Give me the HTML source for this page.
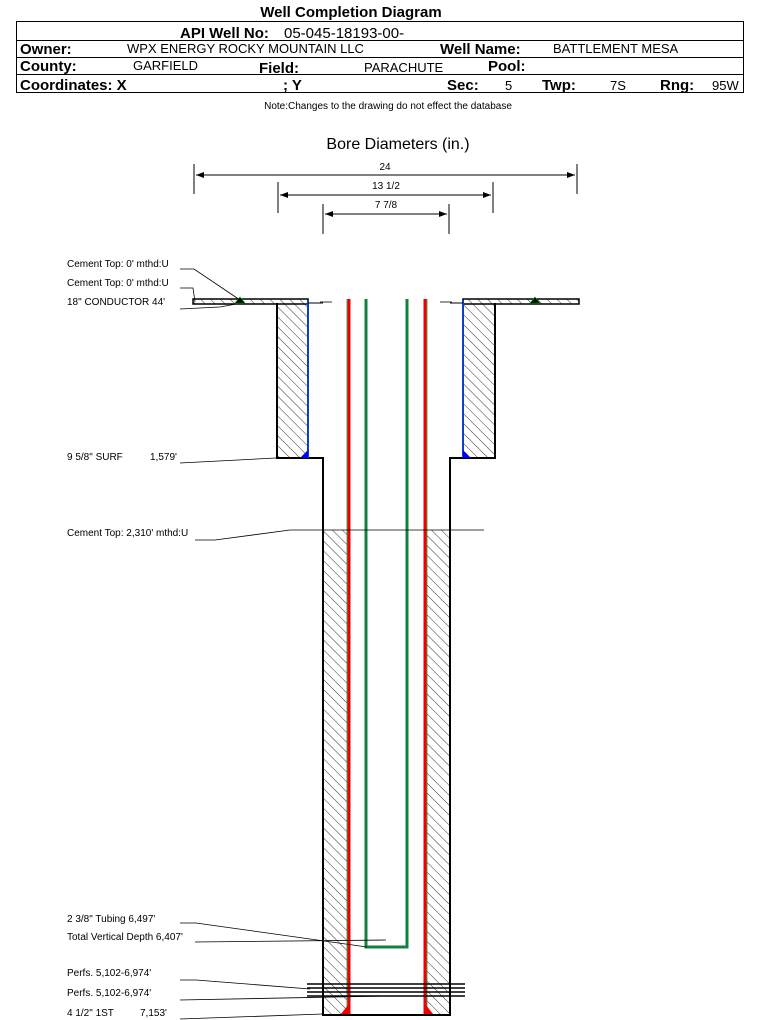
<!DOCTYPE html><html><head><style>
body{margin:0;background:#fff;width:759px;height:1020px;overflow:hidden}
svg{display:block}
text{font-family:"Liberation Sans",Arial,sans-serif}
</style></head><body>
<svg width="759" height="1020" viewBox="0 0 759 1020">
<defs>
<pattern id="h" width="7" height="7" patternUnits="userSpaceOnUse" patternTransform="rotate(-45)"><line x1="0" y1="0" x2="0" y2="7" stroke="#000" stroke-width="0.8"/></pattern>
<marker id="a" markerWidth="8" markerHeight="6" refX="8" refY="3" orient="auto-start-reverse"><path d="M0,0L8,3L0,6z" fill="#000"/></marker>
</defs>
<text x="351" y="17" font-size="15" font-weight="bold" text-anchor="middle">Well Completion Diagram</text>
<rect x="16.5" y="21.5" width="727" height="71" fill="none" stroke="#000"/>
<line x1="16" y1="40.5" x2="743" y2="40.5" stroke="#000"/>
<line x1="16" y1="57.5" x2="743" y2="57.5" stroke="#000"/>
<line x1="16" y1="74.5" x2="743" y2="74.5" stroke="#000"/>
<g font-size="15" font-weight="bold">
<text x="180" y="38">API Well No:</text>
<text x="20" y="54">Owner:</text><text x="440" y="54">Well Name:</text>
<text x="20" y="71">County:</text><text x="259" y="73">Field:</text><text x="488" y="71">Pool:</text>
<text x="20" y="90">Coordinates: X</text><text x="283" y="90">; Y</text><text x="447" y="90">Sec:</text><text x="542" y="90">Twp:</text><text x="660" y="90">Rng:</text>
</g>
<g font-size="13">
<text x="284" y="38" font-size="15">05-045-18193-00-</text>
<text x="127" y="53">WPX ENERGY ROCKY MOUNTAIN LLC</text><text x="553" y="53">BATTLEMENT MESA</text>
<text x="133" y="70">GARFIELD</text><text x="364" y="72">PARACHUTE</text>
<text x="505" y="90">5</text><text x="610" y="90">7S</text><text x="712" y="90">95W</text>
</g>
<text x="388" y="109" font-size="10" text-anchor="middle">Note:Changes to the drawing do not effect the database</text>
<text x="398" y="149" font-size="16" text-anchor="middle">Bore Diameters (in.)</text>
<g stroke="#000" stroke-width="1">
<line x1="194" y1="164" x2="194" y2="194"/><line x1="577" y1="164" x2="577" y2="194"/>
<line x1="196" y1="175" x2="575" y2="175" marker-start="url(#a)" marker-end="url(#a)"/>
<line x1="278" y1="182" x2="278" y2="213"/><line x1="493" y1="182" x2="493" y2="213"/>
<line x1="280" y1="195" x2="491" y2="195" marker-start="url(#a)" marker-end="url(#a)"/>
<line x1="323" y1="204" x2="323" y2="234"/><line x1="449" y1="204" x2="449" y2="234"/>
<line x1="325" y1="214" x2="447" y2="214" marker-start="url(#a)" marker-end="url(#a)"/>
</g>
<g font-size="10" text-anchor="middle"><text x="385" y="170">24</text><text x="386" y="189">13 1/2</text><text x="386" y="208">7 7/8</text></g>
<rect x="193" y="299" width="115" height="5" fill="url(#h)" stroke="#000" stroke-width="1.5"/>
<rect x="463" y="299" width="116" height="5" fill="url(#h)" stroke="#000" stroke-width="1.5"/>
<rect x="277" y="304" width="31" height="154" fill="url(#h)"/>
<rect x="463" y="304" width="32" height="154" fill="url(#h)"/>
<path d="M277,303V458H323V1015H450V458H495V303" fill="none" stroke="#000" stroke-width="2"/>
<line x1="308" y1="300" x2="308" y2="458" stroke="#1040c0" stroke-width="2"/>
<line x1="463" y1="300" x2="463" y2="458" stroke="#1040c0" stroke-width="2"/>
<path d="M300,458L308,450V458z" fill="#00f"/><path d="M463,450L471,458H463z" fill="#00f"/>
<line x1="308" y1="303" x2="323" y2="303" stroke="#000"/><line x1="450" y1="303" x2="463" y2="303" stroke="#000"/>
<rect x="324" y="530" width="23" height="484" fill="url(#h)"/>
<rect x="427" y="530" width="23" height="484" fill="url(#h)"/>
<line x1="349" y1="299" x2="349" y2="1014" stroke="#e00" stroke-width="3"/>
<line x1="425" y1="299" x2="425" y2="1014" stroke="#e00" stroke-width="3"/>
<line x1="347" y1="299" x2="347" y2="1014" stroke="#1a8a3a" stroke-width="0.8"/>
<line x1="427" y1="299" x2="427" y2="1014" stroke="#1a8a3a" stroke-width="0.8"/>
<path d="M341,1014L348,1005V1014z" fill="#e00"/><path d="M426,1005L433,1014H426z" fill="#e00"/>
<path d="M366,299V947H407V299" fill="none" stroke="#118040" stroke-width="3"/>
<line x1="290" y1="530" x2="484" y2="530" stroke="#000" stroke-width="0.8"/>
<line x1="320" y1="302" x2="332" y2="302" stroke="#000" stroke-width="0.8"/>
<line x1="440" y1="302" x2="452" y2="302" stroke="#000" stroke-width="0.8"/>
<g stroke="#000" stroke-width="1.5"><line x1="307" y1="984" x2="465" y2="984"/><line x1="307" y1="988" x2="465" y2="988"/><line x1="307" y1="992" x2="465" y2="992"/><line x1="307" y1="996" x2="465" y2="996"/></g>
<path d="M235,303L240,297L245,303z" fill="#000" stroke="#0a0" stroke-width="0.6"/>
<path d="M530,303L535,297L540,303z" fill="#000" stroke="#0a0" stroke-width="0.6"/>
<g font-size="10">
<text x="67" y="267">Cement Top: 0' mthd:U</text>
<text x="67" y="286">Cement Top: 0' mthd:U</text>
<text x="67" y="305">18" CONDUCTOR  44'</text>
<text x="67" y="460">9 5/8" SURF</text><text x="150" y="460">1,579'</text>
<text x="67" y="536">Cement Top: 2,310' mthd:U</text>
<text x="67" y="922">2 3/8" Tubing 6,497'</text>
<text x="67" y="940">Total Vertical Depth 6,407'</text>
<text x="67" y="976">Perfs. 5,102-6,974'</text>
<text x="67" y="996">Perfs. 5,102-6,974'</text>
<text x="67" y="1016">4 1/2" 1ST</text><text x="140" y="1016">7,153'</text>
</g>
<g stroke="#000" stroke-width="0.8" fill="none">
<path d="M180,269H194L240,300"/>
<path d="M180,288H193L195,302"/>
<path d="M180,309L220,307L236,304"/>
<path d="M180,463L276,458"/>
<path d="M195,540H215L290,530"/>
<path d="M180,923H196L367,947"/>
<path d="M195,942L386,940"/>
<path d="M180,980H196L310,989"/>
<path d="M180,1000L386,996"/>
<path d="M180,1019L323,1014"/>
</g>
</svg>
</body></html>
